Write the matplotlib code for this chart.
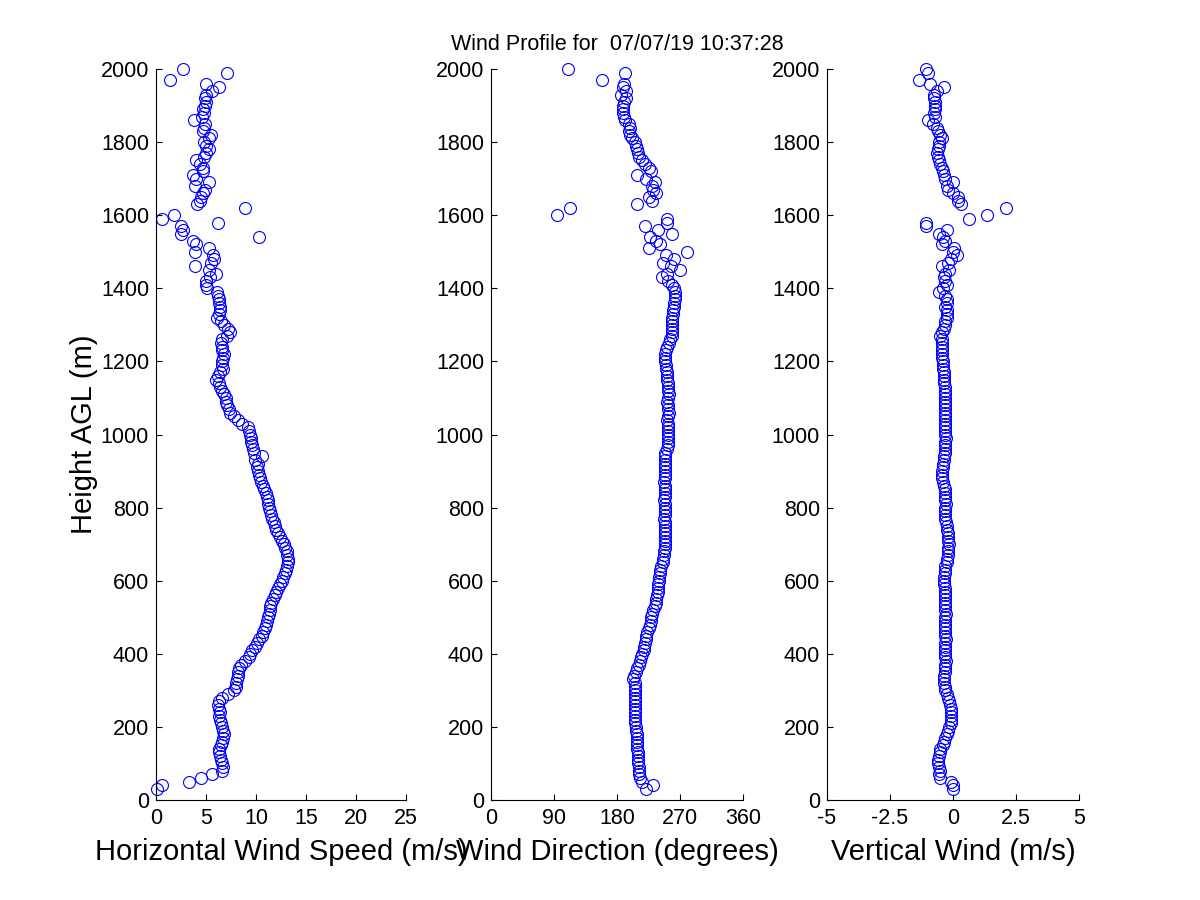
import numpy as np
import matplotlib
matplotlib.use("Agg")
import matplotlib.pyplot as plt

plt.rcParams['font.family'] = ['Liberation Sans', 'DejaVu Sans']

nan = np.nan

# range gates, every 10 m from 30 m to 2000 m
height = list(range(30, 2001, 10))

# horizontal wind speed (m/s)
speed = [
    0.1, 0.6, 3.3, 4.5, 5.6, 6.6, 6.7, 6.6, 6.5, 6.4,
    6.3, 6.3, 6.5, 6.6, 6.7, 6.8, 6.7, 6.6, 6.5, 6.4,
    6.3, 6.4, 6.3, 6.2, 6.3, 6.6, 7.2, 7.8, 8.0, 8.0,
    8.1, 8.2, 8.2, 8.3, 8.5, 8.9, 9.3, 9.4, 9.6, 9.9,
    10.1, 10.3, 10.6, 10.7, 10.9, 11.0, 11.1, 11.2, 11.3, 11.4,
    11.4, 11.5, 11.7, 11.9, 12.0, 12.2, 12.4, 12.6, 12.7, 12.9,
    13.0, 13.1, 13.2, 13.2, 13.1, 13.1, 12.9, 12.8, 12.6, 12.4,
    12.2, 12.0, 11.9, 11.8, 11.6, 11.5, 11.4, 11.3, 11.2, 11.2,
    11.1, 11.0, 10.8, 10.7, 10.5, 10.4, 10.3, 10.2, 10.1, 10.2,
    9.9, 10.6, 9.8, 9.7, 9.6, 9.5, 9.5, 9.4, 9.3, 9.2,
    8.6, 8.2, 7.8, 7.4, 7.3, 7.1, 7.0, 7.0, 6.8, 6.6,
    6.4, 6.3, 6.0, 6.2, 6.4, 6.7, 6.6, 6.6, 6.7, 6.8,
    6.6, 6.6, 6.5, 6.6, 7.1, 7.4, 7.2, 6.8, 6.5, 6.1,
    6.3, 6.4, 6.4, 6.3, 6.3, 6.2, 6.1, 5.1, 5.0, 5.0,
    5.4, 6.0, 5.3, 3.9, 5.5, 5.8, 5.7, 3.9, 5.3, 4.0,
    3.7, 10.3, 2.5, 2.7, 2.5, 6.2, 0.6, 1.8, nan, 8.9,
    4.1, 4.4, 4.5, 4.7, 4.9, 3.9, 5.3, 4.0, 3.7, 4.7,
    4.7, 4.4, 4.0, 4.8, 5.0, 5.3, 5.0, 4.8, 5.3, 5.5,
    4.7, 4.8, 4.9, 3.8, 4.6, 4.8, 4.7, 4.9, 5.0, 4.9,
    5.0, 5.6, 6.3, 5.0, 1.4, nan, 7.1, 2.7,
]

# wind direction (degrees)
direction = [
    222, 232, 215, 213, 211, 211, 211, 210, 210, 210,
    210, 209, 209, 208, 208, 208, 207, 207, 206, 206,
    206, 205, 205, 205, 205, 205, 206, 206, 206, 205,
    203, 204, 207, 209, 211, 213, 214, 216, 218, 219,
    220, 221, 222, 223, 225, 227, 228, 229, 230, 232,
    234, 235, 236, 237, 238, 238, 239, 240, 240, 241,
    242, 243, 245, 246, 247, 247, 248, 248, 248, 248,
    248, 249, 248, 248, 247, 248, 249, 248, 248, 247,
    248, 248, 249, 248, 247, 248, 248, 249, 248, 248,
    248, 248, 249, 251, 253, 253, 253, 253, 253, 253,
    253, 252, 253, 254, 253, 253, 252, 253, 254, 253,
    253, 253, 252, 252, 251, 250, 250, 249, 248, 249,
    250, 252, 254, 256, 258, 258, 258, 258, 258, 259,
    260, 260, 261, 262, 263, 263, 263, 262, 258, 253,
    244, 251, 270, 257, 246, 262, 250, 280, 225, 241,
    236, 227, 258, 239, 220, 251, 251, 94, nan, 113,
    208, 230, 226, 235, 232, 230, 234, 222, 208, 228,
    225, 220, 215, 212, 210, 208, 207, 206, 202, 199,
    197, 199, 197, 192, 190, 189, 188, 188, 190, 193,
    185, 193, 188, 190, 158, nan, 191, 110,
]

# vertical wind (m/s)
vertical = [
    0.0, 0.0, -0.1, -0.5, -0.55, -0.5, -0.55, -0.6, -0.6, -0.55,
    -0.5, -0.5, -0.4, -0.35, -0.3, -0.25, -0.2, -0.15, -0.1, -0.1,
    -0.1, -0.1, -0.1, -0.12, -0.15, -0.2, -0.25, -0.3, -0.3, -0.35,
    -0.35, -0.35, -0.3, -0.3, -0.3, -0.28, -0.3, -0.3, -0.32, -0.3,
    -0.3, -0.28, -0.3, -0.3, -0.32, -0.3, -0.3, -0.3, -0.28, -0.3,
    -0.3, -0.32, -0.33, -0.33, -0.33, -0.33, -0.35, -0.35, -0.35, -0.33,
    -0.3, -0.3, -0.25, -0.22, -0.2, -0.2, -0.2, -0.18, -0.2, -0.2,
    -0.2, -0.22, -0.25, -0.28, -0.3, -0.3, -0.3, -0.3, -0.28, -0.3,
    -0.3, -0.3, -0.32, -0.35, -0.4, -0.42, -0.42, -0.42, -0.4, -0.38,
    -0.35, -0.35, -0.32, -0.3, -0.3, -0.3, -0.28, -0.3, -0.3, -0.3,
    -0.3, -0.32, -0.33, -0.33, -0.33, -0.32, -0.33, -0.33, -0.33, -0.33,
    -0.33, -0.35, -0.35, -0.36, -0.37, -0.38, -0.4, -0.4, -0.42, -0.42,
    -0.42, -0.42, -0.42, -0.45, -0.5, -0.45, -0.35, -0.3, -0.3, -0.25,
    -0.22, -0.25, -0.3, -0.25, -0.25, -0.3, -0.55, -0.4, -0.25, -0.3,
    -0.35, -0.3, -0.15, -0.42, -0.2, -0.1, 0.17, 0.0, 0.04, -0.45,
    -0.3, -0.4, -0.55, -0.22, -1.08, -1.08, 0.63, 1.36, nan, 2.09,
    0.3, 0.2, 0.2, 0.0, -0.2, -0.22, 0.0, -0.3, -0.35, -0.4,
    -0.45, -0.5, -0.55, -0.6, -0.65, -0.6, -0.55, -0.55, -0.45, -0.5,
    -0.6, -0.65, -0.8, -1.0, -0.7, -0.75, -0.7, -0.7, -0.7, -0.75,
    -0.75, -0.65, -0.35, -0.9, -1.35, nan, -1.0, -1.08,
]

title = 'Wind Profile for  07/07/19 10:37:28'
xlabels = ['Horizontal Wind Speed (m/s)', 'Wind Direction (degrees)', 'Vertical Wind (m/s)']
xlims = [(0, 25), (0, 360), (-5, 5)]
xticks = [[0, 5, 10, 15, 20, 25], [0, 90, 180, 270, 360], [-5, -2.5, 0, 2.5, 5]]
xticklabels = [['0', '5', '10', '15', '20', '25'],
               ['0', '90', '180', '270', '360'],
               ['-5', '-2.5', '0', '2.5', '5']]
yticks = list(range(0, 2001, 200))

fig = plt.figure(figsize=(12, 9), dpi=100)
lefts = [0.130, 0.4092, 0.6892]
widths = [0.2083, 0.21, 0.21]

for i, series in enumerate([speed, direction, vertical]):
    ax = fig.add_axes([lefts[i], 0.1111, widths[i], 0.8122])
    ax.plot(series, height, linestyle='none', marker='o', markersize=8.6,
            markerfacecolor='none', markeredgecolor='#0000ff',
            markeredgewidth=0.8, clip_on=False)
    ax.set_xlim(*xlims[i])
    ax.set_ylim(0, 2000)
    ax.set_xticks(xticks[i])
    ax.set_xticklabels(xticklabels[i])
    ax.set_yticks(yticks)
    ax.spines['top'].set_visible(False)
    ax.spines['right'].set_visible(False)
    for s in ('left', 'bottom'):
        ax.spines[s].set_linewidth(0.8)
    ax.tick_params(direction='in', length=4.5, width=0.8, labelsize=15.5, pad=6)
    ax.tick_params(axis='y', pad=5)
    ax.set_xlabel(xlabels[i], fontsize=21, labelpad=6)
    if i == 0:
        ax.set_ylabel('Height AGL (m)', fontsize=21, labelpad=2)
    if i == 1:
        ax.set_title(title, fontsize=15.5, pad=14)

fig.savefig('out.png', dpi=100)
